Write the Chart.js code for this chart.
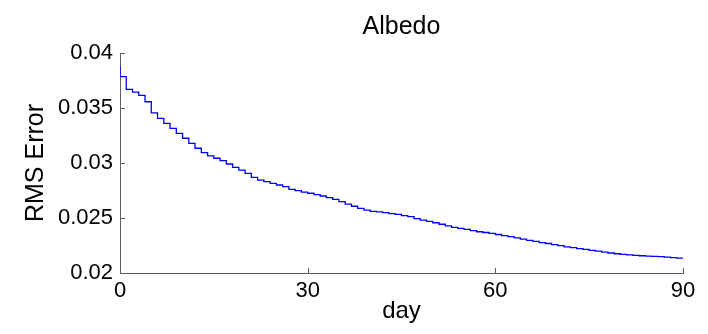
<!DOCTYPE html>
<html>
<head>
<meta charset="utf-8">
<script src="https://cdn.jsdelivr.net/npm/chart.js@4/dist/chart.umd.min.js"></script>
<style>
  html, body { margin: 0; padding: 0; background: #ffffff; }
  #wrap { width: 708px; height: 334px; position: relative; }
</style>
</head>
<body>
<div id="wrap"><canvas id="c" width="708" height="334"></canvas></div>
<script>
// ---- data ----
const days = [0, 0, 1, 2, 3, 4, 5, 6, 7, 8, 9, 10, 11, 12, 13, 14, 15, 16, 17, 18, 19, 20,
  21, 22, 23, 24, 25, 26, 27, 28, 29, 30, 31, 32, 33, 34, 35, 36, 37, 38, 39, 40,
  41, 42, 43, 44, 45, 46, 47, 48, 49, 50, 51, 52, 53, 54, 55, 56, 57, 58, 59, 60,
  61, 62, 63, 64, 65, 66, 67, 68, 69, 70, 71, 72, 73, 74, 75, 76, 77, 78, 79, 80,
  81, 82, 83, 84, 85, 86, 87, 88, 89, 90];
const rmsError = [0.0388, 0.03785, 0.0367, 0.03645, 0.03615, 0.03557, 0.03455, 0.03406, 0.03361, 0.03315, 0.0327,
  0.03225, 0.03179, 0.03134, 0.03094, 0.03064, 0.03043, 0.03021, 0.02991, 0.02961, 0.02936,
  0.02906, 0.0287, 0.02845, 0.0283, 0.02815, 0.028, 0.02785, 0.02761, 0.02748, 0.02735,
  0.02725, 0.02712, 0.027, 0.02685, 0.0267, 0.02648, 0.02627, 0.02607, 0.02588, 0.02572,
  0.0256, 0.02555, 0.02548, 0.0254, 0.02533, 0.02522, 0.02512, 0.02495, 0.0248, 0.0247,
  0.02457, 0.02443, 0.02428, 0.02415, 0.02406, 0.02397, 0.02386, 0.02375, 0.02368, 0.02361,
  0.0235, 0.0234, 0.0233, 0.0232, 0.02308, 0.02296, 0.02287, 0.02277, 0.02268, 0.02258,
  0.02248, 0.02238, 0.0223, 0.02222, 0.02214, 0.02206, 0.02198, 0.0219, 0.02182, 0.02175,
  0.0217, 0.02165, 0.0216, 0.02157, 0.02154, 0.02151, 0.02148, 0.02144, 0.0214, 0.02136, 0.02133];
const xTicks = [0, 30, 60, 90];
const yTicks = [0.02, 0.025, 0.03, 0.035, 0.04];
const chartTitle = 'Albedo';
const xLabel = 'day';
const yLabel = 'RMS Error';

const FONT = '"Liberation Sans", Arial, Helvetica, sans-serif';
const AXIS_COLOR = '#5e5e5e';

const points = days.map((d, i) => ({ x: d, y: rmsError[i] }));

// inward tick marks like the original figure
const inwardTicks = {
  id: 'inwardTicks',
  afterDatasetsDraw(chart) {
    const { ctx, chartArea, scales } = chart;
    ctx.save();
    ctx.strokeStyle = AXIS_COLOR;
    ctx.lineWidth = 1;
    ctx.beginPath();
    xTicks.forEach(v => {
      const px = Math.round(scales.x.getPixelForValue(v)) + 0.5;
      ctx.moveTo(px, chartArea.bottom);
      ctx.lineTo(px, chartArea.bottom - 5);
    });
    yTicks.forEach(v => {
      const py = Math.round(scales.y.getPixelForValue(v)) + 0.5;
      ctx.moveTo(chartArea.left, py);
      ctx.lineTo(chartArea.left + 5, py);
    });
    ctx.stroke();
    ctx.restore();
  }
};

new Chart(document.getElementById('c'), {
  type: 'line',
  data: {
    datasets: [{
      data: points,
      borderColor: '#0000ff',
      borderWidth: 1.3,
      pointRadius: 0,
      stepped: 'before',
      fill: false
    }]
  },
  options: {
    responsive: false,
    animation: false,
    layout: { padding: { left: 0, right: 25, top: 0, bottom: 0 } },
    plugins: {
      legend: { display: false },
      tooltip: { enabled: false },
      title: {
        display: true,
        text: chartTitle,
        fullSize: false,
        color: '#000',
        font: { family: FONT, size: 25, weight: 'normal' },
        padding: { top: 12, bottom: 11 }
      }
    },
    scales: {
      x: {
        type: 'linear',
        min: 0,
        max: 90,
        afterBuildTicks: s => { s.ticks = xTicks.map(v => ({ value: v })); },
        afterFit: s => { s.height = 61; },
        grid: { display: false, drawTicks: false },
        border: { display: true, color: AXIS_COLOR, width: 1 },
        ticks: {
          color: '#000',
          padding: 5,
          maxRotation: 0,
          font: { family: FONT, size: 22 },
          callback: v => String(v)
        },
        title: {
          display: true,
          text: xLabel,
          color: '#000',
          font: { family: FONT, size: 24 },
          padding: { top: 0, bottom: 8 }
        }
      },
      y: {
        type: 'linear',
        min: 0.02,
        max: 0.04,
        afterBuildTicks: s => { s.ticks = yTicks.map(v => ({ value: v })); },
        afterFit: s => { s.width = 120; },
        grid: { display: false, drawTicks: false },
        border: { display: true, color: AXIS_COLOR, width: 1 },
        ticks: {
          color: '#000',
          padding: 7,
          font: { family: FONT, size: 22 },
          callback: v => String(+Number(v).toFixed(3))
        },
        title: {
          display: true,
          text: yLabel,
          color: '#000',
          font: { family: FONT, size: 25 },
          padding: { top: 21, bottom: 0 }
        }
      }
    }
  },
  plugins: [inwardTicks]
});
</script>
</body>
</html>
